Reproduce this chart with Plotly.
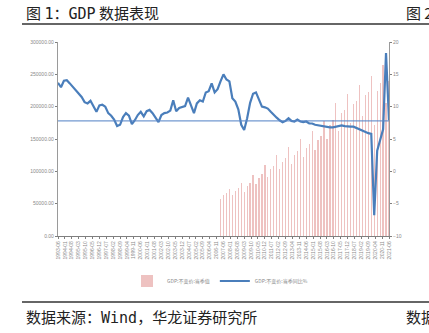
import pandas as pd
import plotly.graph_objects as go

# ---- data ----
yoy_start = "1993-06-01"
gdp_yoy = [13.7, 13.0, 14.0,
           14.1, 13.6, 13.1, 12.6,
           12.0, 11.5, 10.7, 10.5,
           10.9, 10.0, 9.2, 10.2,
           10.3, 10.0, 9.0, 8.6,
           8.0, 7.0, 7.2, 8.4,
           9.0, 8.6, 7.3, 7.9,
           8.7, 9.2, 8.5, 9.3,
           9.5, 9.0, 8.3, 7.6,
           8.7, 9.0, 9.1, 9.4,
           11.0, 9.3, 9.8, 10.0,
           10.1, 11.4, 10.3, 9.0,
           10.5, 11.0, 10.8, 12.2,
           12.4, 13.6, 12.2, 12.7,
           13.9, 15.0, 14.2, 13.9,
           11.3, 10.8, 9.6, 7.2,
           6.4, 8.2, 10.6, 12.0,
           12.2, 11.0, 10.0, 9.9,
           9.7, 9.2, 8.7, 8.3,
           7.9, 7.6, 7.8, 8.2,
           7.8, 7.7, 8.0, 7.7,
           7.6, 7.7, 7.4, 7.4,
           7.2, 7.1, 7.0, 6.9,
           6.9, 6.8, 6.8, 6.9,
           7.0, 7.1, 7.0, 6.9,
           6.9, 6.9, 6.7, 6.5,
           6.3, 6.0, 5.9, 5.8,
           -6.8, 3.2, 4.9, 6.5,
           18.3, 7.9]

val_start = "2007-03-01"
gdp_value = [57000, 63000, 66000, 72000,
             63000, 70000, 74000, 82000,
             68000, 77000, 82000, 95000,
             80000, 90000, 96000, 110000,
             92000, 103000, 108000, 125000,
             103000, 115000, 120000, 138000,
             112000, 125000, 131000, 150000,
             122000, 136000, 142000, 162000,
             133000, 148000, 155000, 178000,
             150000, 172000, 180000, 206000,
             162000, 190000, 195000, 220000,
             174000, 204000, 208000, 233000,
             185000, 218000, 222000, 247000,
             172000, 225000, 237000, 264000,
             205000, 240000]

avg_yoy = 7.8
x_range = ["1993-06-01", "2021-06-01"]

name_val = "GDP:不变价:当季值"
name_yoy = "GDP:不变价:当季同比%"
title_html = ("图 <span style='font-family:DejaVu Sans Mono'>1</span>："
              "<span style='font-family:DejaVu Sans Mono'>GDP</span> 数据表现")
source_html = ("数据来源：<span style='font-family:DejaVu Sans Mono'>Wind</span>，"
               "华龙证券研究所")

yoy_dates = pd.date_range(yoy_start, periods=len(gdp_yoy), freq="3MS")
val_dates = pd.date_range(val_start, periods=len(gdp_value), freq="3MS")

# ---- layout geometry (pixels) ----
W, H = 429, 333
L, R, T, B = 58, 389, 42, 236
def px(x): return (x - L) / (R - L)
def py(y): return (B - y) / (B - T)

CJK = "Noto Sans CJK SC"
tiny = dict(family="Liberation Sans", size=5, color="#8a8a8a")

fig = go.Figure()
fig.add_trace(go.Bar(
    x=val_dates, y=gdp_value, name=name_val,
    marker=dict(color="rgba(214,110,108,0.42)", line=dict(width=0)),
    width=40 * 24 * 3600 * 1000, yaxis="y",
))
fig.add_trace(go.Scatter(
    x=yoy_dates, y=gdp_yoy, name=name_yoy, mode="lines",
    line=dict(color="#4a7ebb", width=2.2), yaxis="y2",
))
fig.add_trace(go.Scatter(
    x=x_range, y=[avg_yoy, avg_yoy], mode="lines", showlegend=False,
    line=dict(color="rgba(90,135,200,0.85)", width=1.3), yaxis="y2",
))

fig.update_layout(
    width=W, height=H,
    margin=dict(l=L, r=W - R, t=T, b=H - B),
    paper_bgcolor="white", plot_bgcolor="white",
    showlegend=True,
    legend=dict(orientation="h", x=px(220), y=py(281), xanchor="center", yanchor="middle",
                font=dict(family=CJK, size=5, color="#8a8a8a"),
                itemwidth=30, tracegroupgap=0, bgcolor="rgba(0,0,0,0)"),
    bargap=0,
    xaxis=dict(type="date", range=x_range, tick0="1993-06-01", dtick="M7",
               tickformat="%Y-%m", tickangle=-90, tickfont=tiny,
               showgrid=False, zeroline=False, showline=True,
               linecolor="#7f7f7f", linewidth=1.2, ticks="outside",
               ticklen=2, tickcolor="#7f7f7f"),
    yaxis=dict(range=[0, 300000], dtick=50000, tickformat=".2f",
               tickfont=tiny, showgrid=False, zeroline=False,
               showline=True, linecolor="#9a9a9a", linewidth=1.2,
               ticks="outside", ticklen=2, tickcolor="#7f7f7f"),
    yaxis2=dict(range=[-10, 20], dtick=5, overlaying="y", side="right",
                tickfont=tiny, showgrid=False, zeroline=False,
                showline=True, linecolor="#9a9a9a", linewidth=1.2,
                ticks="outside", ticklen=2, tickcolor="#7f7f7f"),
)

big = dict(family=CJK, size=15, color="#222")
annotations = [
    dict(text=title_html, x=px(24), y=py(12), xanchor="left", yanchor="middle", font=big),
    dict(text="图 2", x=px(404), y=py(12), xanchor="left", yanchor="middle", font=big),
    dict(text=source_html, x=px(24), y=py(316), xanchor="left", yanchor="middle", font=big),
    dict(text="数据", x=px(404), y=py(316), xanchor="left", yanchor="middle", font=big),
]
for a in annotations:
    a.update(xref="paper", yref="paper", showarrow=False)
fig.update_layout(annotations=annotations)

fig.update_layout(shapes=[
    dict(type="line", xref="paper", yref="paper", x0=px(22), x1=px(429),
         y0=py(24), y1=py(24), line=dict(color="#333", width=1.5)),
    dict(type="line", xref="paper", yref="paper", x0=px(22), x1=px(429),
         y0=py(302), y1=py(302), line=dict(color="#333", width=1.5)),
])

fig.write_html("out.html")
